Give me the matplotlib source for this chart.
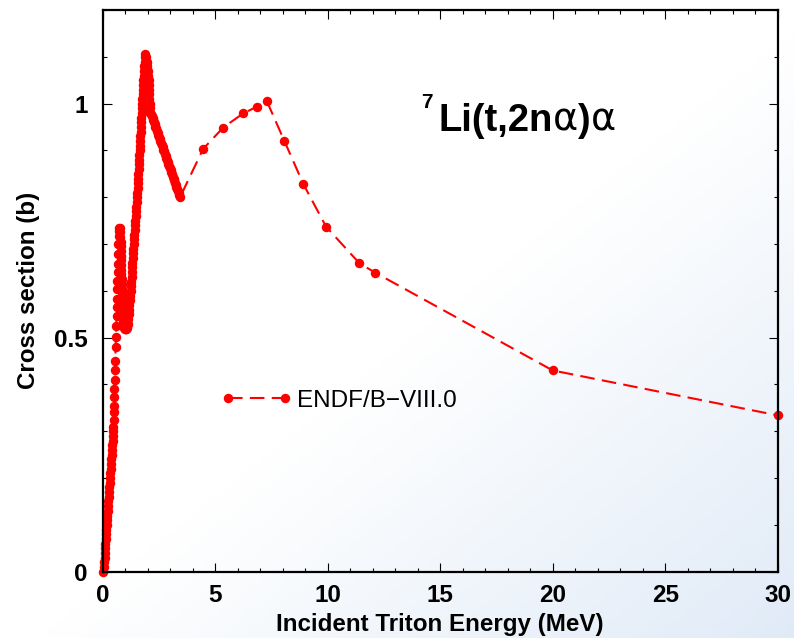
import matplotlib
matplotlib.use("Agg")
import matplotlib.pyplot as plt
import numpy as np
from matplotlib.lines import Line2D
from matplotlib.legend_handler import HandlerLine2D
from matplotlib.ticker import MultipleLocator

# ENDF/B-VIII.0 7Li(t,2n alpha) alpha
energy = [
    # steep rise from zero
    0.000, 0.054, 0.069, 0.083, 0.097, 0.112, 0.126, 0.140, 0.154, 0.169, 0.183,
    0.197, 0.212, 0.226, 0.240, 0.255, 0.269, 0.283, 0.297, 0.312, 0.326, 0.340,
    0.355, 0.369, 0.383, 0.398, 0.412, 0.426, 0.440, 0.455, 0.469,
    # first bump, rising side
    0.478, 0.487, 0.497, 0.505, 0.515, 0.525, 0.536, 0.548, 0.560, 0.576, 0.588,
    0.603, 0.615, 0.625, 0.635, 0.647, 0.657, 0.668, 0.678, 0.690, 0.702, 0.713,
    0.718, 0.725,
    # first bump, falling side and dip
    0.750, 0.775, 0.790, 0.800, 0.805, 0.810, 0.815, 0.820, 0.825, 0.830, 0.835,
    0.840, 0.845, 0.850, 0.855, 0.860, 0.865, 0.872, 0.880, 0.890, 0.900, 0.910,
    0.925, 0.940, 0.955, 0.970, 0.990, 1.010, 1.030, 1.050, 1.070, 1.090,
    # rise to the main peak
    1.107, 1.128, 1.149, 1.170, 1.191, 1.212, 1.226, 1.240, 1.254, 1.268, 1.282,
    1.296, 1.310, 1.324, 1.338, 1.352, 1.366, 1.381, 1.396, 1.411, 1.426, 1.441,
    1.456, 1.471, 1.486, 1.501, 1.516, 1.528, 1.539, 1.550, 1.561, 1.572, 1.583,
    1.594, 1.605, 1.616, 1.627, 1.638, 1.649, 1.660, 1.671, 1.682, 1.694, 1.705,
    1.716, 1.727, 1.738, 1.749, 1.761, 1.772, 1.783, 1.796, 1.809, 1.822, 1.835,
    1.848, 1.861, 1.874, 1.900, 1.930,
    # drop after the peak
    1.960, 1.990, 2.010, 2.030, 2.040, 2.050, 2.060, 2.070, 2.080, 2.090, 2.100,
    2.120, 2.150,
    # straight fall to 3.4 MeV
    2.183, 2.215, 2.247, 2.279, 2.312, 2.344, 2.376, 2.408, 2.441, 2.473, 2.505,
    2.537, 2.570, 2.602, 2.634, 2.666, 2.699, 2.731, 2.763, 2.795, 2.828, 2.860,
    2.892, 2.924, 2.957, 2.989, 3.021, 3.053, 3.086, 3.118, 3.150, 3.182, 3.215,
    3.247, 3.279, 3.311, 3.344, 3.376, 3.408, 3.440,
    # coarse grid
    4.46, 5.36, 6.24, 6.84, 7.29, 8.08, 8.92, 9.93, 11.41, 12.11, 20.0, 30.0,
]
xs = [
    0.000, 0.010, 0.020, 0.030, 0.040, 0.050, 0.060, 0.070, 0.080, 0.090, 0.100,
    0.110, 0.120, 0.130, 0.140, 0.150, 0.160, 0.170, 0.180, 0.190, 0.200, 0.210,
    0.220, 0.230, 0.240, 0.250, 0.260, 0.270, 0.280, 0.290, 0.300,
    0.309, 0.324, 0.341, 0.355, 0.373, 0.391, 0.409, 0.430, 0.451, 0.480, 0.501,
    0.526, 0.547, 0.565, 0.583, 0.604, 0.622, 0.640, 0.658, 0.679, 0.700, 0.718,
    0.728, 0.735,
    0.735, 0.725, 0.715, 0.705, 0.695, 0.685, 0.675, 0.665, 0.655, 0.645, 0.635,
    0.625, 0.615, 0.605, 0.595, 0.585, 0.575, 0.565, 0.556, 0.548, 0.541, 0.535,
    0.530, 0.526, 0.523, 0.521, 0.519, 0.518, 0.518, 0.519, 0.521, 0.524,
    0.530, 0.540, 0.550, 0.560, 0.570, 0.580, 0.590, 0.600, 0.610, 0.620, 0.630,
    0.640, 0.650, 0.660, 0.670, 0.680, 0.690, 0.700, 0.710, 0.720, 0.730, 0.740,
    0.750, 0.760, 0.770, 0.780, 0.790, 0.800, 0.810, 0.820, 0.830, 0.840, 0.850,
    0.860, 0.870, 0.880, 0.890, 0.900, 0.910, 0.920, 0.930, 0.940, 0.950, 0.960,
    0.970, 0.980, 0.990, 1.000, 1.010, 1.020, 1.030, 1.040, 1.050, 1.060, 1.070,
    1.080, 1.090, 1.100, 1.105, 1.100,
    1.090, 1.080, 1.070, 1.060, 1.050, 1.040, 1.030, 1.020, 1.010, 1.000, 0.990,
    0.980, 0.978,
    0.974, 0.969, 0.965, 0.960, 0.956, 0.951, 0.947, 0.942, 0.938, 0.933, 0.929,
    0.925, 0.920, 0.916, 0.911, 0.907, 0.902, 0.898, 0.893, 0.889, 0.884, 0.880,
    0.876, 0.871, 0.867, 0.862, 0.858, 0.853, 0.849, 0.844, 0.840, 0.836, 0.831,
    0.827, 0.822, 0.818, 0.813, 0.809, 0.804, 0.800,
    0.903, 0.949, 0.979, 0.993, 1.006, 0.920, 0.828, 0.737, 0.659, 0.639, 0.430, 0.334,
]

x_ticks = [0, 5, 10, 15, 20, 25, 30]
y_ticks = [0, 0.5, 1]
y_tick_labels = ["0", "0.5", "1"]

plt.rcParams["font.family"] = ["Liberation Sans", "DejaVu Sans"]

fig = plt.figure(figsize=(7.94, 6.38), dpi=100)

# soft white-to-blue page background
bg = fig.add_axes([0, 0, 1, 1], zorder=-10)
gx, gy = np.meshgrid(np.linspace(0, 1, 200), np.linspace(0, 1, 200))
t = np.clip((gx + gy - 1.05) / 0.95, 0, 1)
white = np.array([1.0, 1.0, 1.0])
blue = np.array([0.88, 0.92, 0.97])
img = white[None, None, :] * (1 - t[..., None]) + blue[None, None, :] * t[..., None]
bg.imshow(img, extent=[0, 1, 0, 1], aspect="auto", origin="upper")
bg.axis("off")

ax = fig.add_axes([0.1293, 0.1039, 0.8502, 0.8804])
ax.set_facecolor("none")

ax.plot(energy, xs, color="#ff0000", lw=1.5, dashes=[7, 3.5], marker="o",
        ms=5.8, mec="#ff0000", mfc="#ff0000", clip_on=False,
        label="ENDF/B\u2212VIII.0")

ax.set_xlim(0, 30)
ax.set_ylim(0, 1.2)
ax.set_xticks(x_ticks)
ax.set_yticks(y_ticks)
ax.set_yticklabels(y_tick_labels)
ax.xaxis.set_minor_locator(MultipleLocator(1))
ax.yaxis.set_minor_locator(MultipleLocator(0.1))
ax.tick_params(which="both", direction="in", top=True, right=True, width=0.8)
ax.tick_params(which="major", length=6.2)
ax.tick_params(which="minor", length=3.1)
ax.tick_params(axis="x", which="major", pad=9, labelsize=17.5)
ax.tick_params(axis="y", which="major", pad=11, labelsize=17.5)
for lab in ax.get_xticklabels() + ax.get_yticklabels():
    lab.set_fontweight("bold")
for sp in ax.spines.values():
    sp.set_linewidth(1.6)

ax.set_xlabel("Incident Triton Energy (MeV)", fontsize=17.4, fontweight="bold", labelpad=4)
ax.set_ylabel("Cross section (b)", fontsize=17.4, fontweight="bold", labelpad=10)

ax.legend(loc="center left", bbox_to_anchor=(0.1856, 0.304), frameon=False,
          fontsize=17.5, handlelength=2.35, handletextpad=0.5, borderpad=0,
          borderaxespad=0, numpoints=2,
          handler_map={Line2D: HandlerLine2D(marker_pad=0)})

# reaction label built from pieces: bold latin, plain greek
t1 = ax.text(0.497, 0.785, "Li(t,2n", transform=ax.transAxes, fontsize=27.5,
             fontweight="bold", va="baseline", ha="left")
t2 = ax.annotate("\u03b1", xy=(1, 0), xycoords=t1, fontsize=27.5, va="bottom",
                 ha="left", family=["DejaVu Sans"])
t3 = ax.annotate(")", xy=(1, 0), xycoords=t2, fontsize=27.5, fontweight="bold",
                 va="bottom", ha="left")
t4 = ax.annotate("\u03b1", xy=(1, 0), xycoords=t3, fontsize=27.5, va="bottom",
                 ha="left", family=["DejaVu Sans"])
ax.text(0.489, 0.8255, "7", transform=ax.transAxes, fontsize=15,
        fontweight="bold", va="baseline", ha="right")

fig.savefig("out.png", dpi=100)
